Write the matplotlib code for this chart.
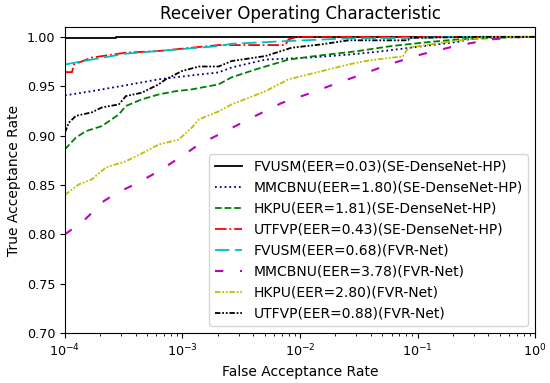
import matplotlib
matplotlib.use("Agg")
import matplotlib.pyplot as plt

# ROC data (FAR, TAR)
fvusm_se_far = [1e-4, 2.7e-4, 2.7e-4, 1.0]
fvusm_se_tar = [0.9985, 0.9985, 1.0, 1.0]

mmcbnu_se_far = [1e-4, 1.69e-4, 3.3e-4, 6.29e-4, 1.2e-3, 2.03e-3, 2.62e-3, 5.09e-3,
                 1.18e-2, 2.58e-2, 4.64e-2, 0.101, 0.222, 0.328, 1.0]
mmcbnu_se_tar = [0.9407, 0.945, 0.951, 0.957, 0.961, 0.964, 0.969, 0.977,
                 0.979, 0.982, 0.985, 0.990, 0.995, 1.0, 1.0]

hkpu_se_far = [1e-4, 1.24e-4, 1.51e-4, 2.06e-4, 2.88e-4, 3.3e-4, 4.51e-4, 6.29e-4,
               8.77e-4, 1.2e-3, 2.03e-3, 2.62e-3, 4.19e-3, 7.98e-3, 1.35e-2, 3.14e-2,
               5.98e-2, 0.116, 0.222, 0.82, 1.0]
hkpu_se_tar = [0.886, 0.898, 0.9045, 0.9096, 0.9215, 0.930, 0.9367, 0.9417,
               0.945, 0.9468, 0.9519, 0.959, 0.967, 0.977, 0.9806, 0.9857,
               0.9907, 0.9944, 0.9975, 1.0, 1.0]

utfvp_se_far = [1e-4, 1.15e-4, 1.19e-4, 1.69e-4, 3.3e-4, 6.29e-4, 2.03e-3, 7.5e-3,
                7.98e-3, 9.71e-3, 1.0]
utfvp_se_tar = [0.9643, 0.9643, 0.972, 0.979, 0.984, 0.9857, 0.9917, 0.9917,
                0.9975, 1.0, 1.0]

fvusm_fvr_far = [1e-4, 1.69e-4, 3.3e-4, 6.29e-4, 2.03e-3, 2.62e-3, 7.98e-3, 2.58e-2,
                 0.101, 0.194, 1.0]
fvusm_fvr_tar = [0.972, 0.977, 0.983, 0.9857, 0.9907, 0.993, 0.9958, 0.9985,
                 0.999, 1.0, 1.0]

mmcbnu_fvr_far = [1e-4, 1.39e-4, 1.76e-4, 2.14e-4, 2.77e-4, 4.0e-4, 6.29e-4, 9.86e-4,
                  1.38e-3, 2.33e-3, 3.87e-3, 6.97e-3, 1.25e-2, 2.12e-2, 3.2e-2,
                  5.65e-2, 0.108, 0.209, 0.423, 0.82, 1.0]
mmcbnu_fvr_tar = [0.800, 0.812, 0.8235, 0.8336, 0.842, 0.851, 0.864, 0.879,
                  0.891, 0.9045, 0.918, 0.933, 0.9434, 0.9536, 0.961,
                  0.972, 0.9823, 0.9907, 0.9975, 1.0, 1.0]

hkpu_fvr_far = [1e-4, 1.31e-4, 1.69e-4, 2.23e-4, 3.3e-4, 4.88e-4, 6.29e-4, 9.29e-4,
                1.2e-3, 1.38e-3, 2.03e-3, 2.62e-3, 5.09e-3, 7.98e-3, 1.35e-2,
                2.58e-2, 3.6e-2, 5.98e-2, 7.5e-2, 8.34e-2, 0.159, 0.309, 0.485, 1.0]
hkpu_fvr_tar = [0.840, 0.8505, 0.8556, 0.8677, 0.874, 0.884, 0.891, 0.896,
                0.908, 0.9164, 0.9245, 0.9316, 0.945, 0.957, 0.9637,
                0.972, 0.9755, 0.979, 0.980, 0.989, 0.994, 0.9985, 1.0, 1.0]

utfvp_fvr_far = [1e-4, 1.08e-4, 1.24e-4, 1.69e-4, 2.06e-4, 2.88e-4, 3.3e-4, 4.51e-4,
                 6.29e-4, 7.21e-4, 9.86e-4, 1.38e-3, 2.03e-3, 2.62e-3, 5.09e-3,
                 8.47e-3, 1.52e-2, 2.58e-2, 8.34e-2, 8.5e-2, 0.328, 1.0]
utfvp_fvr_tar = [0.903, 0.913, 0.920, 0.9235, 0.9285, 0.9316, 0.940, 0.9434,
                 0.952, 0.957, 0.9653, 0.970, 0.970, 0.9755, 0.9806,
                 0.989, 0.9924, 0.9965, 0.9965, 0.999, 1.0, 1.0]

fig = plt.figure(figsize=(5.5, 3.83), dpi=100)
ax = fig.add_subplot(1, 1, 1)
fig.subplots_adjust(left=0.118, right=0.973, top=0.9295, bottom=0.1305)

lw = 1.3
ax.plot(fvusm_se_far, fvusm_se_tar, color="k", linestyle="-", lw=lw,
        label="FVUSM(EER=0.03)(SE-DenseNet-HP)")
ax.plot(mmcbnu_se_far, mmcbnu_se_tar, color="navy", linestyle=":", lw=lw,
        label="MMCBNU(EER=1.80)(SE-DenseNet-HP)")
ax.plot(hkpu_se_far, hkpu_se_tar, color="g", linestyle="--", lw=lw,
        label="HKPU(EER=1.81)(SE-DenseNet-HP)")
ax.plot(utfvp_se_far, utfvp_se_tar, color="r", linestyle="-.", lw=lw,
        label="UTFVP(EER=0.43)(SE-DenseNet-HP)")
ax.plot(fvusm_fvr_far, fvusm_fvr_tar, color="c", linestyle=(0, (8, 3)), lw=lw,
        label="FVUSM(EER=0.68)(FVR-Net)")
ax.plot(mmcbnu_fvr_far, mmcbnu_fvr_tar, color="m", linestyle=(0, (4, 8)), lw=1.5,
        label="MMCBNU(EER=3.78)(FVR-Net)")
ax.plot(hkpu_fvr_far, hkpu_fvr_tar, color="y", linestyle=(0, (3, 1, 1, 1, 1, 1)), lw=lw,
        label="HKPU(EER=2.80)(FVR-Net)")
ax.plot(utfvp_fvr_far, utfvp_fvr_tar, color="k", linestyle=(0, (3, 1, 1, 1, 1, 1)), lw=lw,
        label="UTFVP(EER=0.88)(FVR-Net)")

ax.set_xscale("log")
ax.set_xlim(1e-4, 1)
ax.set_ylim(0.70, 1.01)
ax.set_yticks([0.70, 0.75, 0.80, 0.85, 0.90, 0.95, 1.00])
ax.tick_params(labelsize=9.2)
ax.set_xlabel("False Acceptance Rate", fontsize=10)
ax.set_ylabel("True Acceptance Rate", fontsize=10)
ax.set_title("Receiver Operating Characteristic", fontsize=12)
ax.legend(loc="lower right", fontsize=10)

fig.savefig("out.png", dpi=100)
